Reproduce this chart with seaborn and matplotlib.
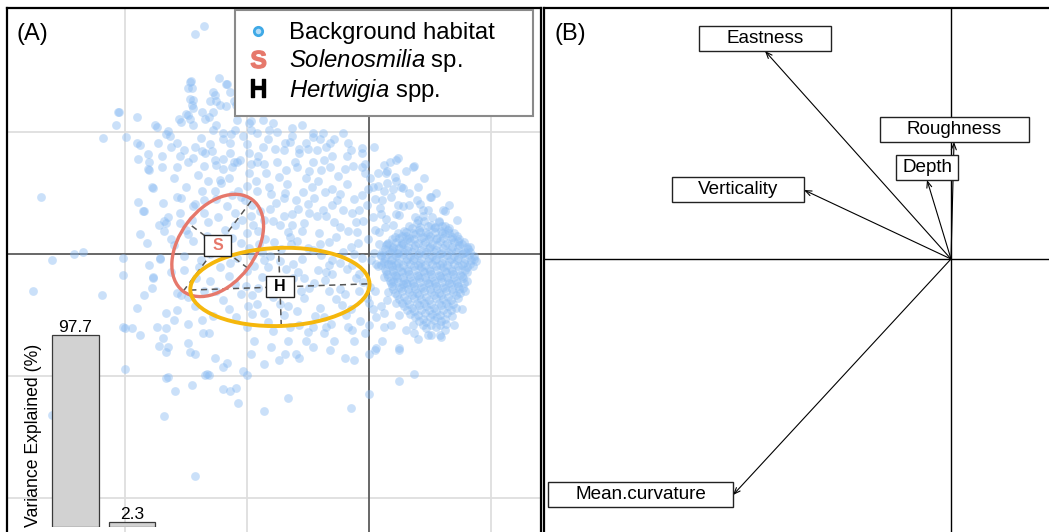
import matplotlib
matplotlib.use("Agg")
import matplotlib.pyplot as plt
from matplotlib.patches import Ellipse
from matplotlib.lines import Line2D
from matplotlib.path import Path
import numpy as np
import pandas as pd
import seaborn as sns

# ---------------------------------------------------------------- data
# Background habitat scores on the first two niche axes (sparse outskirts)
outer_pts = [
    (-1.35, 1.87), (-1.43, 1.80), (-2.69, 0.47), (-2.75, -0.30), (-2.60, -0.05), (-2.42, 0.00),
    (-2.34, 0.02), (-2.19, -0.34), (-2.00, -0.61), (-1.94, -0.61), (-1.88, -0.66), (-2.05, 1.16),
    (-2.07, 1.06), (-1.90, 1.12), (-2.18, 0.95), (-1.80, 0.69), (-1.78, 0.55), (-1.88, 0.16),
    (-1.85, 0.35), (-1.72, 0.24), (-1.68, 0.27), (-1.74, 1.04), (-1.70, 0.80), (-1.65, 1.01),
    (-1.63, 0.97), (-1.54, 1.08), (-1.57, 0.91), (-1.47, 1.41), (-1.45, 1.36), (-1.47, 1.27),
    (-1.45, 1.22), (-1.50, 1.15), (-1.47, 1.11), (-1.37, 1.16), (-1.31, 1.12), (-1.30, 1.25),
    (-1.26, 1.30), (-1.23, 1.44), (-1.17, 1.39), (-1.14, 1.33), (-1.09, 1.22), (-1.03, 1.16),
    (-0.97, 1.09), (-0.97, 1.02), (-1.28, 1.02), (-1.20, 0.94), (-1.13, 0.98), (-1.03, 0.97),
    (-1.43, 0.88), (-1.34, 0.83), (-1.26, 0.77), (-1.14, 0.83), (-1.06, 0.77), (-0.97, 0.74),
    (-0.91, 0.80), (-0.83, 0.94), (-0.77, 0.86), (-0.69, 0.91), (-0.63, 0.97), (-0.57, 0.86),
    (-0.52, 0.91), (-0.46, 0.99), (-0.40, 0.94), (-0.35, 0.88), (-0.29, 0.94), (-0.17, 0.91),
    (-0.06, 0.83), (0.04, 0.88), (-0.03, 0.74), (0.22, 0.77), (0.37, 0.72), (0.22, 0.60),
    (0.14, 0.66), (0.51, 0.47), (0.62, 0.35), (0.42, 0.41), (0.57, 0.27),
    (-1.26, 0.52), (-1.43, 0.41), (-1.54, 0.46), (-1.65, 0.30), (-1.68, 0.19), (-1.60, 0.07),
    (-1.71, -0.04), (-1.80, -0.09), (-1.77, -0.20), (-1.54, -0.34), (-1.43, -0.43), (-1.60, -0.54),
    (-1.48, -0.57), (-1.37, -0.54), (-1.28, -0.51), (-1.48, -0.73), (-1.65, -0.76), (-1.31, -0.65),
    (-1.43, -0.82), (-1.31, -0.99), (-1.26, -0.85), (-1.09, -1.10), (-1.03, -0.96), (-0.97, -0.82),
    (-0.86, -0.90), (-0.74, -0.87), (-0.66, -0.71), (-0.57, -0.85), (-0.46, -0.76), (-0.32, -0.79),
    (-0.20, -0.85), (-0.12, -0.87), (0.00, -0.82), (0.05, -0.79), (0.11, -0.71), (0.25, -0.79),
    (0.37, -0.98), (0.25, -1.04), (0.00, -1.15), (-0.15, -1.26), (-0.66, -1.18), (-0.86, -1.29),
    (-1.07, -1.22), (-1.68, -1.33), (-1.43, -1.82), (0.37, -0.65), (0.51, -0.66), (0.59, -0.68),
    (-1.65, -1.01), (-1.45, -1.07), (-1.34, -0.99), (-1.20, -0.93), (-1.14, -1.12), (-1.00, -0.99),
    (-0.94, -0.71), (-0.80, -0.76), (-0.69, -0.82), (-0.60, -0.82), (-0.52, -0.71), (-0.46, -0.60),
    (-0.37, -0.65), (-0.29, -0.71), (-0.17, -0.60), (-0.12, -0.71), (-0.03, -0.65),
    (-2.00, -0.94), (-1.66, -1.02), (-1.59, -1.12), (-1.33, -0.98), (-1.20, -1.11), (-1.16, -0.89),
    (-2.60, -1.32), (-2.02, -0.60), (-1.74, -0.60), (-1.66, -0.61), (-1.69, -0.69), (-1.72, -0.75),
    (-1.66, -0.80), (-1.47, -0.80), (-1.36, -0.65), (0.48, -0.66), (0.58, -0.66), (0.06, -0.77),
    (0.25, -0.77), (0.30, -0.62), (0.70, -0.58), (0.76, -0.45), (0.40, -0.70),
    (-1.89, 0.43), (-1.84, 0.35), (-1.77, 0.54), (-1.69, 0.42), (-1.66, 0.25), (-1.82, 0.09),
    (-1.71, -0.03), (-1.77, -0.19), (-1.84, -0.34), (-1.90, -0.44), (-1.78, -0.28), (-1.66, -0.48),
    (-1.57, -0.46), (-2.02, -0.03), (-2.02, -0.17), (-1.55, 0.34), (-1.57, 0.47), (-1.44, 0.39),
    (-1.37, 0.52), (-1.22, 0.61), (-1.48, 0.16), (-1.52, -0.02), (-1.52, -0.13), (-1.39, -0.11),
    (-1.57, -0.32), (-1.48, -0.35),
    (-2.06, 1.16), (-1.99, 0.96), (-1.75, 1.06), (-1.90, 0.91), (-1.88, 0.89), (-1.81, 0.82),
    (-1.73, 0.91), (-1.89, 0.78), (-1.80, 0.75), (-1.81, 0.70), (-1.66, 0.98), (-1.56, 1.11),
    (-1.48, 1.36), (-1.46, 1.42), (-1.44, 1.26), (-1.48, 1.14), (-1.44, 1.06), (-1.44, 1.20),
    (-1.34, 1.11), (-1.28, 1.16), (-1.25, 1.06), (-1.16, 1.39), (-1.28, 1.33), (-1.25, 1.25),
    (-1.22, 1.22), (-1.17, 1.21), (-1.11, 1.25), (-1.20, 0.99), (-1.14, 0.91), (-1.29, 0.84),
    (-1.37, 0.84), (-1.52, 0.85), (-1.48, 0.75), (-1.44, 0.79), (-1.70, 0.71), (-1.57, 0.71),
    (-1.25, 0.73), (-1.20, 0.70), (-1.11, 0.75),
    (-1.60, 0.62), (-1.50, 0.55), (-1.40, 0.65), (-1.32, 0.60), (-1.20, 0.78), (-1.35, 0.72),
    (-1.55, 0.80), (-1.62, 0.88), (-1.38, 0.95), (-1.30, 0.90), (-1.10, 1.02), (-1.00, 0.90),
    (-0.92, 0.99), (-0.82, 1.02), (-0.65, 0.92), (-0.50, 0.86), (-0.30, 0.80), (-0.15, 0.85),
    (-1.55, 0.25), (-1.45, 0.28), (-1.35, 0.44), (-1.62, 0.12), (-1.42, -0.20), (-1.62, -0.15),
    (-1.35, -0.30),
]

# Intermediate-density band between the outskirts and the main mode
mid_pts = [
    (-1.08, 1.10), (-0.98, 1.07), (-0.87, 1.10), (-0.79, 1.07), (-0.75, 1.00), (-0.63, 1.03),
    (-0.55, 1.06), (-0.46, 0.96), (-0.38, 0.99), (-0.21, 0.99), (-0.32, 0.91), (-0.43, 0.85),
    (-0.57, 0.83), (-0.70, 0.85), (-0.87, 0.88), (-0.98, 0.83), (-1.08, 0.75), (-0.92, 0.75),
    (-0.75, 0.75), (-0.59, 0.71), (-0.46, 0.75), (-0.32, 0.71), (-0.18, 0.80), (-0.06, 0.87),
    (-0.06, 0.71), (0.17, 0.75), (0.24, 0.79), (0.36, 0.71), (0.07, 0.66), (0.15, 0.58),
    (0.28, 0.54), (0.39, 0.44), (0.50, 0.47), (0.61, 0.36), (0.44, 0.36), (0.28, 0.39),
    (0.11, 0.44), (0.03, 0.55), (0.40, 0.55), (0.55, 0.50), (0.66, 0.40), (0.33, 0.40),
    (0.48, 0.36), (0.72, 0.28), (0.25, 0.32), (0.40, 0.28), (0.45, 0.62), (0.30, 0.68),
    (-1.12, 0.71), (-0.98, 0.66), (-0.86, 0.74), (-0.74, 0.63), (-0.61, 0.75), (-0.49, 0.68),
    (-0.37, 0.77), (-0.25, 0.64), (-0.13, 0.72), (0.01, 0.62), (0.12, 0.73), (0.26, 0.55),
    (-1.21, 0.58), (-1.07, 0.52), (-0.93, 0.60), (-0.80, 0.49), (-0.67, 0.57), (-0.54, 0.51),
    (-0.42, 0.60), (-0.30, 0.53), (-0.18, 0.57), (-0.06, 0.48), (0.07, 0.56), (0.18, 0.47),
    (0.33, 0.50), (-1.16, 0.39), (-1.02, 0.44), (-0.89, 0.35), (-0.76, 0.42), (-0.63, 0.33),
    (-0.50, 0.41), (-0.38, 0.36), (-0.26, 0.44), (-0.14, 0.34), (-0.02, 0.40), (0.10, 0.33),
    (0.24, 0.40), (0.38, 0.30), (-1.32, 0.26), (-1.18, 0.20), (-1.04, 0.28), (-0.91, 0.19),
    (-0.79, 0.27), (-0.66, 0.18), (-0.53, 0.25), (-0.41, 0.17), (-0.29, 0.26), (-0.17, 0.19),
    (-0.05, 0.27), (0.08, 0.18), (0.20, 0.24), (-1.44, 0.11), (-1.27, 0.06), (-1.12, 0.13),
    (-0.98, 0.05), (-0.85, 0.12), (-0.72, 0.04), (-0.59, 0.11), (-0.46, 0.03), (-0.33, 0.10),
    (-0.21, 0.02), (-0.09, 0.09), (0.04, 0.01), (0.15, 0.08), (-1.38, -0.05), (-1.22, -0.11),
    (-1.08, -0.03), (-0.94, -0.10), (-0.81, -0.02), (-0.68, -0.12), (-0.55, -0.04), (-0.42, -0.13),
    (-0.30, -0.05), (-0.18, -0.12), (-0.06, -0.03), (0.07, -0.10), (-1.30, -0.22), (-1.15, -0.18),
    (-1.01, -0.26), (-0.88, -0.19), (-0.75, -0.27), (-0.62, -0.20), (-0.49, -0.28), (-0.36, -0.21),
    (-0.24, -0.29), (-0.11, -0.20), (0.01, -0.27), (0.12, -0.19), (-1.20, -0.38), (-1.05, -0.33),
    (-0.92, -0.41), (-0.79, -0.35), (-0.66, -0.43), (-0.53, -0.36), (-0.40, -0.44), (-0.27, -0.37),
    (-0.15, -0.45), (-0.02, -0.36), (0.10, -0.43), (-1.09, -0.52), (-0.96, -0.49), (-0.83, -0.56),
    (-0.70, -0.50), (-0.57, -0.58), (-0.44, -0.51), (-0.31, -0.57), (-0.19, -0.50), (-0.07, -0.55),
    (0.06, -0.52), (0.18, -0.58),
    (-0.92, 0.52), (-0.70, 0.46), (-0.47, 0.55), (-0.24, 0.49), (-0.01, 0.53), (0.21, 0.63),
    (-0.97, 0.31), (-0.73, 0.24), (-0.58, 0.37), (-0.35, 0.31), (-0.11, 0.26), (0.14, 0.29),
    (0.30, 0.15), (-0.88, 0.02), (-0.64, 0.08), (-0.39, -0.01), (-0.15, 0.06), (0.10, -0.02),
    (0.24, 0.01), (-0.83, -0.11), (-0.58, -0.15), (-0.33, -0.09), (-0.08, -0.16), (0.18, -0.08),
    (0.28, -0.25), (-0.71, -0.31), (-0.45, -0.24), (-0.20, -0.33), (0.05, -0.30), (0.22, -0.40),
    (-1.05, 0.47), (-0.82, 0.55), (-0.60, 0.44), (-0.36, 0.51), (-0.12, 0.45), (0.12, 0.52),
    (-1.10, 0.34), (-0.86, 0.28), (-0.63, 0.24), (-0.43, 0.31), (-0.21, 0.36), (0.03, 0.30),
    (0.22, 0.33), (-1.00, 0.17), (-0.78, 0.10), (-0.55, 0.19), (-0.27, 0.14), (-0.01, 0.12),
    (0.27, 0.09), (-0.96, -0.02), (-0.73, -0.06), (-0.50, 0.05), (-0.24, -0.07), (0.02, -0.05),
    (0.20, -0.15), (-0.91, -0.28), (-0.53, -0.20), (-0.30, -0.16), (-0.05, -0.23), (0.16, -0.31),
    (0.05, 0.20), (0.09, 0.38), (0.00, -0.40), (0.12, -0.48), (0.25, -0.50),
    (-1.15, 0.62), (-1.00, 0.56), (-0.84, 0.66), (-0.68, 0.69), (-0.52, 0.62), (-0.39, 0.69),
    (-0.20, 0.70), (-0.03, 0.66), (0.15, 0.68), (-1.25, 0.45), (-1.12, 0.48), (-0.96, 0.40),
    (-0.81, 0.37), (-0.69, 0.50), (-0.45, 0.46), (-0.30, 0.40), (-0.08, 0.36), (0.05, 0.45),
    (0.20, 0.53), (-1.35, 0.34), (-1.24, 0.30), (-1.10, 0.24), (-0.95, 0.24), (-0.70, 0.31),
    (-0.49, 0.34), (-0.24, 0.22), (-0.10, 0.18), (0.13, 0.22), (-1.50, 0.20), (-1.33, 0.15),
    (-1.18, 0.04), (-1.05, 0.09), (-0.90, 0.08), (-0.65, 0.14), (-0.40, 0.08), (-0.12, 0.00),
    (0.20, 0.05), (-1.30, 0.00), (-1.14, -0.07), (-1.00, -0.14), (-0.86, -0.05), (-0.62, -0.08),
    (-0.35, -0.15), (-0.14, -0.09), (0.12, -0.06), (-1.25, -0.30), (-1.10, -0.25), (-0.96, -0.34),
    (-0.80, -0.22), (-0.56, -0.30), (-0.33, -0.30), (-0.08, -0.30), (0.20, -0.22), (-1.15, -0.45),
    (-0.99, -0.43), (-0.86, -0.48), (-0.73, -0.41), (-0.59, -0.47), (-0.37, -0.52), (-0.22, -0.42),
    (0.03, -0.45), (0.15, -0.38), (-1.00, -0.60), (-0.79, -0.63), (-0.65, -0.60), (-0.50, -0.64),
    (-0.35, -0.60), (-0.14, -0.62), (0.00, -0.58), (0.12, -0.60),
]

# Main mode of the background habitat
core_pts = [
    (0.39, 0.25), (0.45, 0.27), (0.51, 0.24), (0.57, 0.26), (0.62, 0.23),
    (0.29, 0.19), (0.35, 0.21), (0.41, 0.20), (0.47, 0.18), (0.53, 0.21), (0.59, 0.19), (0.65, 0.20),
    (0.70, 0.17), (0.21, 0.14), (0.27, 0.15), (0.33, 0.13), (0.38, 0.16), (0.44, 0.14), (0.50, 0.15),
    (0.56, 0.13), (0.62, 0.16), (0.68, 0.14), (0.74, 0.12), (0.16, 0.09), (0.22, 0.10), (0.28, 0.08),
    (0.34, 0.11), (0.40, 0.09), (0.46, 0.10), (0.52, 0.08), (0.58, 0.11), (0.64, 0.09), (0.70, 0.10),
    (0.76, 0.08), (0.80, 0.06), (0.13, 0.04), (0.19, 0.03), (0.25, 0.05), (0.31, 0.03), (0.37, 0.05),
    (0.43, 0.03), (0.49, 0.05), (0.55, 0.03), (0.61, 0.05), (0.67, 0.03), (0.73, 0.05), (0.79, 0.02),
    (0.10, -0.01), (0.16, 0.00), (0.22, -0.02), (0.28, 0.00), (0.34, -0.02), (0.40, -0.01),
    (0.46, 0.00), (0.52, -0.02), (0.58, 0.00), (0.64, -0.01), (0.70, -0.02), (0.76, 0.00), (0.82, -0.01),
    (0.12, -0.07), (0.18, -0.05), (0.24, -0.07), (0.30, -0.06), (0.36, -0.05), (0.42, -0.07),
    (0.48, -0.06), (0.54, -0.05), (0.60, -0.07), (0.66, -0.06), (0.72, -0.05), (0.78, -0.07), (0.84, -0.05),
    (0.13, -0.12), (0.19, -0.10), (0.25, -0.11), (0.31, -0.12), (0.37, -0.10), (0.43, -0.11),
    (0.49, -0.12), (0.55, -0.10), (0.61, -0.11), (0.67, -0.12), (0.73, -0.10), (0.80, -0.11),
    (0.15, -0.16), (0.21, -0.17), (0.27, -0.15), (0.33, -0.16), (0.39, -0.17), (0.45, -0.15),
    (0.51, -0.16), (0.57, -0.17), (0.63, -0.15), (0.69, -0.16), (0.75, -0.17), (0.80, -0.15),
    (0.17, -0.22), (0.23, -0.20), (0.29, -0.21), (0.35, -0.22), (0.41, -0.20), (0.47, -0.21),
    (0.53, -0.22), (0.59, -0.20), (0.65, -0.21), (0.71, -0.22), (0.77, -0.20),
    (0.19, -0.26), (0.25, -0.27), (0.31, -0.25), (0.37, -0.26), (0.43, -0.27), (0.49, -0.25),
    (0.55, -0.26), (0.61, -0.27), (0.67, -0.25), (0.73, -0.26), (0.77, -0.28),
    (0.21, -0.32), (0.27, -0.30), (0.33, -0.31), (0.39, -0.32), (0.45, -0.30), (0.51, -0.31),
    (0.57, -0.32), (0.63, -0.30), (0.69, -0.31), (0.75, -0.32),
    (0.25, -0.37), (0.31, -0.38), (0.37, -0.36), (0.43, -0.37), (0.49, -0.38), (0.55, -0.36),
    (0.61, -0.37), (0.67, -0.38), (0.73, -0.36),
    (0.29, -0.43), (0.35, -0.44), (0.41, -0.42), (0.47, -0.43), (0.53, -0.44), (0.59, -0.42),
    (0.65, -0.43), (0.71, -0.44),
    (0.34, -0.49), (0.40, -0.50), (0.46, -0.48), (0.52, -0.49), (0.58, -0.50), (0.64, -0.48), (0.68, -0.51),
    (0.41, -0.55), (0.47, -0.56), (0.53, -0.54), (0.59, -0.55), (0.63, -0.57),
    (0.47, -0.61), (0.55, -0.60),
    (0.86, -0.02), (0.85, -0.10), (0.83, 0.06), (0.88, -0.06), (0.08, 0.08), (0.06, -0.08),
    (0.44, 0.31), (0.52, 0.30), (0.36, -0.58), (0.62, -0.62), (0.79, -0.30), (0.80, -0.22),
    (0.33, 0.23), (0.42, 0.22), (0.48, 0.23), (0.54, 0.22), (0.60, 0.23), (0.66, 0.21),
    (0.24, 0.17), (0.30, 0.18), (0.36, 0.17), (0.42, 0.18), (0.48, 0.16), (0.54, 0.18),
    (0.60, 0.17), (0.66, 0.17), (0.72, 0.15), (0.19, 0.12), (0.25, 0.13), (0.31, 0.12),
    (0.37, 0.12), (0.43, 0.13), (0.49, 0.12), (0.55, 0.12), (0.61, 0.13), (0.67, 0.12),
    (0.73, 0.11), (0.78, 0.10), (0.14, 0.07), (0.20, 0.06), (0.26, 0.07), (0.32, 0.06),
    (0.38, 0.07), (0.44, 0.07), (0.50, 0.06), (0.56, 0.07), (0.62, 0.07), (0.68, 0.06),
    (0.74, 0.07), (0.81, 0.04), (0.11, 0.02), (0.17, 0.02), (0.23, 0.01), (0.29, 0.02),
    (0.35, 0.02), (0.41, 0.01), (0.47, 0.02), (0.53, 0.02), (0.59, 0.01), (0.65, 0.02),
    (0.71, 0.02), (0.77, 0.01), (0.83, 0.02), (0.13, -0.03), (0.19, -0.04), (0.25, -0.03),
    (0.31, -0.04), (0.37, -0.03), (0.43, -0.04), (0.49, -0.03), (0.55, -0.04), (0.61, -0.03),
    (0.67, -0.04), (0.73, -0.03), (0.79, -0.04), (0.86, -0.04), (0.10, -0.09), (0.16, -0.08),
    (0.22, -0.09), (0.28, -0.09), (0.34, -0.08), (0.40, -0.09), (0.46, -0.09), (0.52, -0.08),
    (0.58, -0.09), (0.64, -0.09), (0.70, -0.08), (0.76, -0.09), (0.83, -0.08), (0.14, -0.14),
    (0.20, -0.13), (0.26, -0.14), (0.32, -0.14), (0.38, -0.13), (0.44, -0.14), (0.50, -0.14),
    (0.56, -0.13), (0.62, -0.14), (0.68, -0.14), (0.74, -0.13), (0.79, -0.13), (0.16, -0.19),
    (0.22, -0.18), (0.28, -0.19), (0.34, -0.19), (0.40, -0.18), (0.46, -0.19), (0.52, -0.19),
    (0.58, -0.18), (0.64, -0.19), (0.70, -0.19), (0.76, -0.18), (0.18, -0.24), (0.24, -0.23),
    (0.30, -0.24), (0.36, -0.24), (0.42, -0.23), (0.48, -0.24), (0.54, -0.24), (0.60, -0.23),
    (0.66, -0.24), (0.72, -0.24), (0.78, -0.24), (0.20, -0.29), (0.26, -0.28), (0.32, -0.29),
    (0.38, -0.29), (0.44, -0.28), (0.50, -0.29), (0.56, -0.29), (0.62, -0.28), (0.68, -0.29),
    (0.74, -0.29), (0.23, -0.34), (0.29, -0.35), (0.35, -0.34), (0.41, -0.34), (0.47, -0.35),
    (0.53, -0.34), (0.59, -0.34), (0.65, -0.35), (0.71, -0.34), (0.27, -0.40), (0.33, -0.41),
    (0.39, -0.40), (0.45, -0.40), (0.51, -0.41), (0.57, -0.40), (0.63, -0.40), (0.69, -0.41),
    (0.31, -0.46), (0.37, -0.47), (0.43, -0.46), (0.49, -0.46), (0.55, -0.47), (0.61, -0.46),
    (0.67, -0.46), (0.38, -0.52), (0.44, -0.53), (0.50, -0.52), (0.56, -0.52), (0.62, -0.53),
    (0.44, -0.58), (0.51, -0.58), (0.58, -0.58),
]

# Species niche ellipses: centre, semi-axes and orientation (degrees)
species = ["S", "H"]
species_names = [r"$\it{Solenosmilia}$ sp.", r"$\it{Hertwigia}$ spp."]
niche_centre = [(-1.24, 0.07), (-0.73, -0.27)]
niche_semi_major = [0.47, 0.735]
niche_semi_minor = [0.31, 0.32]
niche_angle = [53, 2]

# Eigenvalue bar chart
var_axes = ["Axis 1", "Axis 2"]
var_explained = [97.7, 2.3]

# Variable loadings shown in panel (B)
var_names = ["Eastness", "Roughness", "Depth", "Verticality", "Mean.curvature"]
load_x = [-1.86, 0.03, -0.24, -1.47, -2.18]
load_y = [2.08, 1.17, 0.79, 0.69, -2.36]

# ---------------------------------------------------------------- style
sns.set_style("white")
plt.rcParams["font.family"] = ["Liberation Sans", "DejaVu Sans"]
plt.rcParams["text.color"] = "black"
plt.rcParams["mathtext.fontset"] = "custom"
plt.rcParams["mathtext.rm"] = "Liberation Sans"
plt.rcParams["mathtext.it"] = "Liberation Sans:italic"
plt.rcParams["mathtext.bf"] = "Liberation Sans:bold"

BLUE = "#8bbcf3"
SALMON = "#e6786b"
GOLD = "#f5b70c"
GRID = "#dedede"
ZERO = "#5c5c5c"

W, H = 1049, 532
fig = plt.figure(figsize=(W / 100, H / 100), dpi=100)


def px_axes(left, top, right, bottom):
    return fig.add_axes([left / W, 1 - bottom / H, (right - left) / W, (bottom - top) / H])


def padded_box(hpad, vpad):
    """Rectangular text box with separate horizontal and vertical padding (pixels)."""
    def style(x0, y0, width, height, mutation_size):
        xa, ya = x0 - hpad, y0 - vpad
        xb, yb = x0 + width + hpad, y0 + height + vpad
        return Path([(xa, ya), (xb, ya), (xb, yb), (xa, yb), (xa, ya)], closed=True)
    return style


# ---------------------------------------------------------------- panel A
axA = px_axes(7, 8, 541, 545)
axA.set_xlim(-2.967, 1.410)
axA.set_ylim(-2.385, 2.016)
axA.set_xticks([-2, -1, 1])
axA.set_yticks([-2, -1, 1])
axA.tick_params(length=0, labelbottom=False, labelleft=False)
axA.grid(True, color=GRID, lw=1.3, zorder=0)
axA.set_axisbelow(True)
axA.axhline(0, color=ZERO, lw=1.3, zorder=1)
axA.axvline(0, color=ZERO, lw=1.3, zorder=1)
for sp in axA.spines.values():
    sp.set_color("black")
    sp.set_linewidth(1.6)

bg = pd.DataFrame(outer_pts + mid_pts + core_pts, columns=["pc1", "pc2"])
sns.scatterplot(data=bg, x="pc1", y="pc2", ax=axA, color=BLUE, s=40, alpha=0.45,
                linewidth=0, legend=False, zorder=2)
axA.set_xlabel("")
axA.set_ylabel("")

ell_colors = [SALMON, GOLD]
ell_lw = [2.4, 2.8]
label_colors = [SALMON, "black"]
for i, code in enumerate(species):
    cx, cy = niche_centre[i]
    a, b = niche_semi_major[i], niche_semi_minor[i]
    th = np.deg2rad(niche_angle[i])
    ux, uy = np.cos(th), np.sin(th)
    axA.plot([cx - a * ux, cx + a * ux], [cy - a * uy, cy + a * uy], color="#555555",
             lw=1.1, ls=(0, (4, 3)), zorder=3)
    axA.plot([cx + b * uy, cx - b * uy], [cy - b * ux, cy + b * ux], color="#555555",
             lw=1.1, ls=(0, (4, 3)), zorder=3)
    axA.add_patch(Ellipse((cx, cy), 2 * a, 2 * b, angle=niche_angle[i], fill=False,
                          edgecolor=ell_colors[i], lw=ell_lw[i], zorder=4))
    axA.text(cx, cy, code, ha="center", va="center", fontsize=11.5, fontweight="bold",
             color=label_colors[i], zorder=5,
             bbox=dict(boxstyle=padded_box(8, 3), facecolor="white",
                       edgecolor="#222222", lw=1.0))

axA.text(0.017, 0.972, "(A)", transform=axA.transAxes, ha="left", va="top", fontsize=17)

handles = [
    Line2D([], [], ls="none", marker="o", markersize=6, markerfacecolor="#b5dcf7",
           markeredgecolor="#3fa9e6", markeredgewidth=2.0),
    Line2D([], [], ls="none", marker=r"$\mathbf{S}$", markersize=12.5,
           color=SALMON),
    Line2D([], [], ls="none", marker=r"$\mathbf{H}$", markersize=12.5,
           color="black"),
]
labels = ["Background habitat"] + species_names
leg = axA.legend(handles, labels, loc="upper left", bbox_to_anchor=(0.427, 0.0, 0.558, 0.996),
                 mode="expand", borderaxespad=0, fontsize=17.2, frameon=True, fancybox=False,
                 framealpha=1, edgecolor="#8a8a8a", handlelength=0.9,
                 handletextpad=0.85, labelspacing=0.12, borderpad=0.5)
leg.get_frame().set_linewidth(1.5)
leg.set_zorder(6)

# inset: variance explained by each axis
inset = px_axes(47.25, 330.5, 160.25, 527)
sns.barplot(x=var_axes, y=var_explained, ax=inset, color="#d2d2d2", saturation=1,
            edgecolor="#3a3a3a", linewidth=0.9, width=0.83)
inset.set_xlim(-0.5, 1.5)
inset.set_ylim(0, 100)
inset.bar_label(inset.containers[0], fmt="%.1f", padding=0, fontsize=12.5)
inset.axis("off")
inset.text(-0.126, 0.468, "Variance Explained (%)", transform=inset.transAxes,
           rotation=90, ha="center", va="center", fontsize=12.7)

# ---------------------------------------------------------------- panel B
axB = px_axes(544, 8, 1062, 545)
axB.set_xlim(-4.07, 1.11)
axB.set_ylim(-2.86, 2.51)
axB.set_xticks([])
axB.set_yticks([])
for sp in axB.spines.values():
    sp.set_color("black")
    sp.set_linewidth(1.6)
axB.axhline(0, color="black", lw=1.0, zorder=1)
axB.axvline(0, color="black", lw=1.0, zorder=1)
axB.text(0.021, 0.972, "(B)", transform=axB.transAxes, ha="left", va="top", fontsize=17)

label_side = ["above", "above", "above", "left", "left"]
label_hpad = [27, 27, 6, 26, 27]
vpad = 4
for name, lx, ly, side, hp in zip(var_names, load_x, load_y, label_side, label_hpad):
    axB.annotate("", xy=(lx, ly), xytext=(0, 0),
                 arrowprops=dict(arrowstyle="->,head_length=0.45,head_width=0.18",
                                 color="black", lw=0.8, shrinkA=0, shrinkB=0), zorder=2)
    if side == "above":
        off, ha, va = (0, vpad * 0.72), "center", "bottom"
    else:
        off, ha, va = (-hp * 0.72, 0), "right", "center"
    axB.annotate(name, xy=(lx, ly), xytext=off, textcoords="offset points",
                 ha=ha, va=va, fontsize=13.6, zorder=3, annotation_clip=False,
                 bbox=dict(boxstyle=padded_box(hp, vpad), facecolor="white",
                           edgecolor="#222222", lw=1.0))

fig.savefig("out.png", dpi=100)
